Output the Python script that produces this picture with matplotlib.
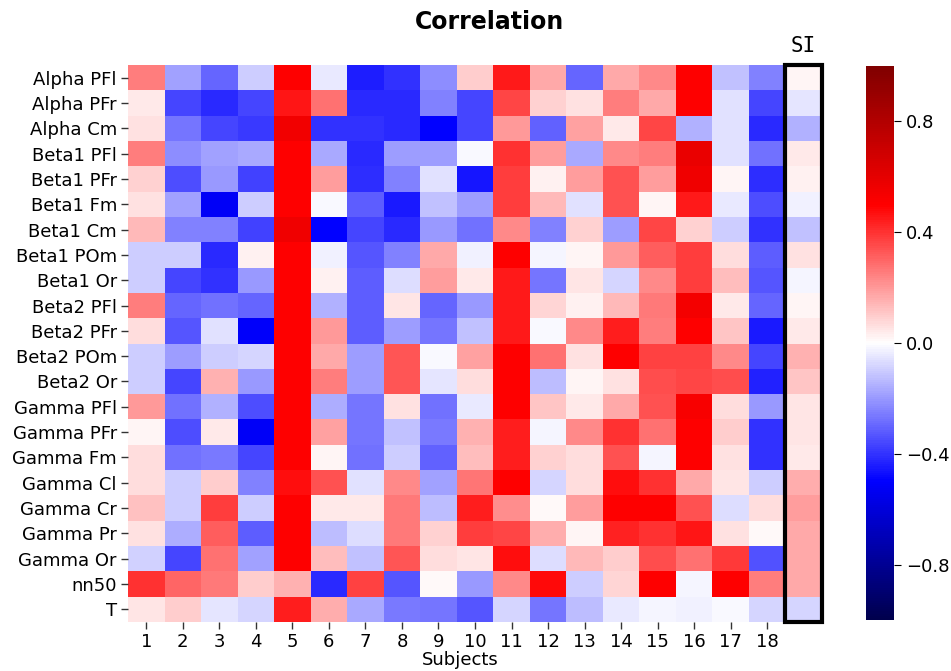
import numpy as np
import matplotlib.pyplot as plt
from matplotlib.patches import Rectangle

rows = ['Alpha PFl', 'Alpha PFr', 'Alpha Cm', 'Beta1 PFl', 'Beta1 PFr', 'Beta1 Fm',
        'Beta1 Cm', 'Beta1 POm', 'Beta1 Or', 'Beta2 PFl', 'Beta2 PFr', 'Beta2 POm',
        'Beta2 Or', 'Gamma PFl', 'Gamma PFr', 'Gamma Fm', 'Gamma Cl', 'Gamma Cr',
        'Gamma Pr', 'Gamma Or', 'nn50', 'T']
subjects = [str(i) for i in range(1, 19)]

# correlation per subject (columns 1..18)
subj_corr = [
    [0.25, -0.18, -0.30, -0.10, 0.50, -0.04, -0.44, -0.40, -0.22, 0.10, 0.45, 0.17, -0.30, 0.17, 0.23, 0.50, -0.12, -0.25],
    [0.04, -0.36, -0.42, -0.36, 0.46, 0.28, -0.42, -0.42, -0.25, -0.36, 0.36, 0.09, 0.06, 0.25, 0.17, 0.50, -0.06, -0.36],
    [0.06, -0.27, -0.36, -0.39, 0.55, -0.40, -0.40, -0.42, -0.50, -0.36, 0.20, -0.31, 0.18, 0.04, 0.36, -0.15, -0.06, -0.42],
    [0.25, -0.22, -0.18, -0.17, 0.50, -0.17, -0.42, -0.19, -0.19, -0.01, 0.40, 0.19, -0.17, 0.23, 0.25, 0.58, -0.06, -0.28],
    [0.09, -0.35, -0.20, -0.37, 0.50, 0.19, -0.41, -0.25, -0.06, -0.46, 0.38, 0.03, 0.19, 0.34, 0.19, 0.56, 0.02, -0.41],
    [0.06, -0.18, -0.52, -0.10, 0.50, -0.01, -0.32, -0.45, -0.12, -0.19, 0.38, 0.14, -0.06, 0.34, 0.02, 0.45, -0.04, -0.35],
    [0.14, -0.25, -0.25, -0.37, 0.56, -0.50, -0.36, -0.42, -0.20, -0.28, 0.23, -0.25, 0.09, -0.19, 0.36, 0.09, -0.10, -0.40],
    [-0.10, -0.10, -0.42, 0.03, 0.50, -0.03, -0.33, -0.25, 0.17, -0.03, 0.50, -0.02, 0.02, 0.20, 0.32, 0.38, 0.07, -0.32],
    [-0.10, -0.36, -0.40, -0.20, 0.50, 0.03, -0.32, -0.07, 0.19, 0.04, 0.45, -0.27, 0.05, -0.08, 0.23, 0.38, 0.13, -0.33],
    [0.25, -0.30, -0.28, -0.30, 0.50, -0.15, -0.32, 0.05, -0.30, -0.20, 0.45, 0.08, 0.03, 0.14, 0.26, 0.54, 0.04, -0.30],
    [0.07, -0.33, -0.06, -0.51, 0.50, 0.20, -0.32, -0.19, -0.27, -0.12, 0.45, -0.01, 0.23, 0.44, 0.25, 0.50, 0.11, -0.45],
    [-0.10, -0.19, -0.10, -0.08, 0.50, 0.17, -0.19, 0.33, -0.01, 0.18, 0.50, 0.28, 0.06, 0.50, 0.37, 0.37, 0.23, -0.36],
    [-0.10, -0.36, 0.15, -0.20, 0.50, 0.25, -0.19, 0.33, -0.05, 0.07, 0.50, -0.13, 0.02, 0.06, 0.35, 0.36, 0.35, -0.43],
    [0.20, -0.28, -0.15, -0.35, 0.50, -0.16, -0.27, 0.06, -0.28, -0.04, 0.50, 0.11, 0.04, 0.17, 0.34, 0.53, 0.07, -0.20],
    [0.02, -0.35, 0.04, -0.52, 0.50, 0.18, -0.27, -0.12, -0.26, 0.15, 0.44, -0.02, 0.23, 0.40, 0.28, 0.50, 0.10, -0.40],
    [0.07, -0.28, -0.26, -0.36, 0.50, 0.02, -0.28, -0.10, -0.31, 0.13, 0.44, 0.09, 0.07, 0.34, -0.02, 0.50, 0.06, -0.40],
    [0.07, -0.10, 0.10, -0.25, 0.47, 0.34, -0.06, 0.23, -0.18, 0.27, 0.50, -0.08, 0.07, 0.47, 0.40, 0.17, 0.05, -0.10],
    [0.12, -0.10, 0.38, -0.10, 0.50, 0.04, 0.04, 0.26, -0.13, 0.44, 0.22, 0.01, 0.19, 0.50, 0.50, 0.34, -0.07, 0.07],
    [0.06, -0.16, 0.32, -0.32, 0.50, -0.13, -0.07, 0.26, 0.09, 0.38, 0.36, 0.16, 0.02, 0.43, 0.40, 0.46, 0.06, 0.01],
    [-0.09, -0.36, 0.28, -0.18, 0.50, 0.13, -0.12, 0.33, 0.07, 0.05, 0.47, -0.07, 0.14, 0.10, 0.35, 0.28, 0.39, -0.34],
    [0.40, 0.30, 0.26, 0.10, 0.15, -0.42, 0.37, -0.33, 0.01, -0.20, 0.23, 0.48, -0.10, 0.08, 0.50, -0.02, 0.50, 0.25],
    [0.05, 0.10, -0.05, -0.08, 0.44, 0.16, -0.17, -0.26, -0.27, -0.33, -0.08, -0.27, -0.13, -0.04, -0.02, -0.03, -0.01, -0.08],
]

# SI column
si_corr = [0.02, -0.05, -0.15, 0.04, 0.03, -0.03, -0.12, 0.06, -0.02, 0.02, 0.04,
           0.15, 0.11, 0.05, 0.05, 0.04, 0.16, 0.19, 0.17, 0.17, 0.17, -0.08]

data = np.column_stack([np.array(subj_corr), np.array(si_corr)])
n_rows, n_cols = data.shape

fig = plt.figure(figsize=(9.51, 6.71), dpi=100)
W, H = 951, 671
ax = fig.add_axes([128 / W, 1 - 622 / H, (822 - 128) / W, (622 - 65) / H])
cax = fig.add_axes([866 / W, 1 - 620 / H, 28 / W, 554 / H])

mesh = ax.pcolormesh(data, cmap='seismic', vmin=-1, vmax=1)
ax.set_xlim(0, n_cols)
ax.set_ylim(n_rows, 0)
for s in ax.spines.values():
    s.set_visible(False)

ax.set_xticks(np.arange(len(subjects)) + 0.5)
ax.set_xticklabels(subjects, fontsize=13)
ax.set_yticks(np.arange(n_rows) + 0.5)
ax.set_yticklabels(rows, fontsize=13)
ax.tick_params(length=5, width=1, color='#333333', pad=3)

# box round the SI column
ax.add_patch(Rectangle((18, 0), 1, n_rows, fill=False, edgecolor='black',
                       linewidth=3, clip_on=False, zorder=5))
ax.text(18.5, -0.35, 'SI', ha='center', va='bottom', fontsize=15,
        family='DejaVu Sans Mono')

fig.text(460 / W, 1 - 660 / H, 'Subjects', ha='center', va='center', fontsize=13)
fig.text(490 / W, 1 - 22 / H, 'Correlation', ha='center', va='center',
         fontsize=17, fontweight='bold')

cb = fig.colorbar(mesh, cax=cax, ticks=[-0.8, -0.4, 0.0, 0.4, 0.8])
cb.outline.set_visible(False)
cb.ax.tick_params(labelsize=13, length=5)

plt.savefig('out.png', dpi=100)
